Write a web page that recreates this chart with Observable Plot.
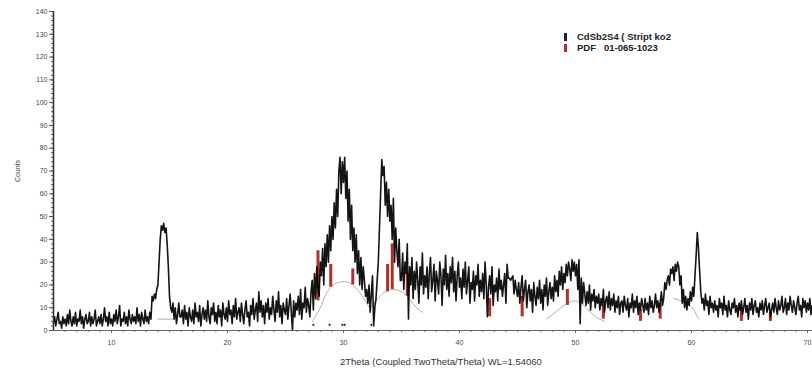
<!DOCTYPE html>
<html><head><meta charset="utf-8">
<script src="https://cdn.jsdelivr.net/npm/d3@7"></script>
<script src="https://cdn.jsdelivr.net/npm/@observablehq/plot@0.6"></script>
<style>
body{margin:0;background:#fff;font-family:"Liberation Sans",Arial,sans-serif;}
#wrap{position:relative;width:812px;height:374px;overflow:hidden;}
.leg{position:absolute;left:564px;font-size:9.5px;font-weight:bold;color:#222;white-space:pre;line-height:10px;}
.leg i{display:inline-block;width:3px;height:8px;margin-right:10px;vertical-align:-1px;}
#xt{position:absolute;left:340px;top:356px;font-size:9.5px;color:#333;white-space:pre;}
</style></head><body><div id="wrap"></div>
<script>
// 2Theta grid: start and step of the scan
const thetaStart = 5.0;
const thetaStep = 0.1;
// Counts, one row per degree (10 points)
const counts = [
/*5*/ 3,6,2,5,8,3,4,1,6,3,
/*6*/ 5,2,7,3,9,4,2,6,3,8,
/*7*/ 2,5,4,9,3,6,1,5,7,3,
/*8*/ 4,8,2,6,3,5,9,2,4,6,
/*9*/ 3,7,2,5,10,4,6,2,8,3,
/*10*/ 5,2,7,4,9,3,6,11,2,5,
/*11*/ 4,8,3,6,2,9,5,3,7,4,
/*12*/ 6,3,10,4,7,2,8,5,3,9,
/*13*/ 4,6,3,8,5,15,13,16,14,18,
/*14*/ 20,30,40,46,44,47,43,45,38,28,
/*15*/ 15,10,8,12,5,10,3,7,12,6,
/*16*/ 6,9,3,11,5,8,2,10,6,4,
/*17*/ 9,3,12,6,8,4,11,2,7,10,
/*18*/ 5,9,4,13,6,3,10,7,12,4,
/*19*/ 8,3,11,6,9,2,12,7,5,10,
/*20*/ 4,13,7,9,3,11,6,14,5,8,
/*21*/ 10,4,12,7,3,9,13,6,8,2,
/*22*/ 11,7,14,5,9,12,4,17,8,13,
/*23*/ 6,11,3,12,8,14,5,10,7,15,
/*24*/ 9,4,13,8,17,6,11,3,12,9,
/*25*/ 7,14,5,11,16,8,0,13,6,12,
/*26*/ 9,15,7,18,5,12,10,19,8,14,
/*27*/ 11,6,17,22,9,25,14,28,18,15,
/*28*/ 30,24,36,20,38,28,42,30,46,35,
/*29*/ 50,40,56,45,62,50,70,76,60,74,
/*30*/ 65,76,58,70,48,62,40,55,35,45,
/*31*/ 30,42,25,35,20,32,18,28,22,15,
/*32*/ 18,12,20,8,16,24,2,10,14,22,
/*33*/ 30,45,60,75,68,72,55,65,50,62,
/*34*/ 48,55,40,58,30,45,35,28,40,22,
/*35*/ 22,34,18,30,25,38,5,28,20,32,
/*36*/ 14,26,18,30,22,12,28,20,34,16,
/*37*/ 24,19,28,14,25,32,17,22,29,13,
/*38*/ 26,22,16,30,24,11,27,20,33,18,
/*39*/ 25,15,28,21,32,17,26,13,24,30,
/*40*/ 19,23,14,27,19,30,16,22,28,12,
/*41*/ 21,18,26,13,24,20,29,15,22,17,
/*42*/ 25,14,30,21,6,19,24,16,28,11,
/*43*/ 20,17,23,13,27,18,22,15,20,25,
/*44*/ 12,29,23,23,22,23,24,16,22,18,
/*45*/ 15,21,12,19,24,13,18,22,10,17,
/*46*/ 20,13,18,8,21,15,11,19,14,22,
/*47*/ 12,18,9,20,15,23,11,17,21,14,
/*48*/ 19,13,24,17,22,15,26,20,28,18,
/*49*/ 25,21,29,24,30,27,22,31,26,30,
/*50*/ 24,29,18,31,3,23,12,21,16,11,
/*51*/ 17,12,20,9,16,13,18,10,15,12,
/*52*/ 16,9,14,11,18,8,13,15,10,17,
/*53*/ 9,14,11,16,8,13,10,15,7,12,
/*54*/ 13,8,15,11,9,14,6,12,10,16,
/*55*/ 8,13,10,15,7,12,9,14,11,8,
/*56*/ 14,9,12,7,15,10,13,8,11,16,
/*57*/ 10,13,8,12,17,11,14,21,18,22,
/*58*/ 24,20,27,25,28,22,29,26,30,28,
/*59*/ 20,24,12,18,10,15,9,14,11,17,
/*60*/ 13,19,15,24,33,43,36,26,17,12,
/*61*/ 14,9,16,11,13,7,15,10,12,8,
/*62*/ 13,9,11,6,14,10,12,7,15,9,
/*63*/ 11,6,13,9,7,12,10,14,8,11,
/*64*/ 6,12,9,13,7,10,14,8,11,5,
/*65*/ 12,9,14,7,11,13,8,10,6,12,
/*66*/ 9,13,7,11,14,8,10,12,6,9,
/*67*/ 12,8,14,10,7,13,9,11,15,8,
/*68*/ 10,14,7,12,9,15,11,8,13,10,
/*69*/ 7,12,15,9,11,6,14,10,13,8,
/*70*/ 12,9,14,7,11
];
// Fitted background (amorphous humps)
const bgSeg   = [1,1, 2,2,2,2,2,2,2,2,2,2,2,2,2,2,2,2,2,2,2,2, 3,3,3,3,3,3,3, 4,4,4,4];
const bgTheta = [14.0,15.4, 27.3,28.0,28.5,29.0,29.5,30.0,30.5,31.0,31.5,32.0,32.3,32.8,33.3,33.8,34.3,34.8,35.3,35.8,36.3,36.8, 47.5,48.5,49.3,50.0,50.7,51.5,52.5, 58.5,59.5,60.2,60.6];
const bgCount = [5,5, 4,10,16,19.5,21,21.5,21,19,16,12,10,13,16,17.5,18,17.5,16,13,10,8, 5,9,12,13,11,7,4, 14,12,9,5];
// PDF 01-065-1023 reference sticks
const pdfTheta = [27.8,28.9,30.8,33.8,34.2,35.5,42.6,45.4,49.3,52.4,55.6,57.3,64.3,66.8];
const pdfTop   = [35,29,27,29,38,25,14,15,18,11,9,12,10,8];
const pdfBase  = [13,19,20,17,18,15,6,6,11,5,4,5,4,4];
// small markers under the pattern
const markTheta = [27.4,28.8,29.9,30.1,32.4];

const data = counts.map((c,i)=>({t: +(thetaStart + i*thetaStep).toFixed(2), c}));
const bg = bgTheta.map((t,i)=>({t, c: bgCount[i], s: bgSeg[i]}));
const pdf = pdfTheta.map((t,i)=>({t, y1: pdfBase[i], y2: pdfTop[i]}));
const marks = markTheta.map(t=>({t, c: 2.5}));

const chart = Plot.plot({
  width: 812, height: 374,
  marginLeft: 53, marginRight: 0, marginTop: 11, marginBottom: 44,
  style: {fontFamily: "Liberation Sans, Arial, sans-serif", background: "#fff"},
  x: {domain: [5, 70.43]},
  y: {domain: [0, 140]},
  marks: [
    Plot.line(bg, {x: "t", y: "c", z: "s", stroke: "#9a9a9a", strokeWidth: 0.8, curve: "monotone-x"}),
    Plot.ruleX(pdf, {x: "t", y1: "y1", y2: "y2", stroke: "#b0302a", strokeWidth: 3}),
    Plot.line(data, {x: "t", y: "c", stroke: "#000", strokeWidth: 1.6, strokeOpacity: 0.92}),
    Plot.dot(marks, {x: "t", y: "c", r: 1.1, fill: "#222", stroke: null}),
    Plot.ruleY([0], {stroke: "#666", strokeWidth: 1}),
    Plot.ruleX([5], {stroke: "#333", strokeWidth: 1.6}),
    Plot.axisY({ticks: d3.range(0, 141, 2), tickSize: 2, tickFormat: () => "", label: null, stroke: "#555"}),
    Plot.axisY({ticks: d3.range(0, 141, 10), tickSize: 4, tickPadding: 2, fontSize: 7, fill: "#444", stroke: "#555",
      label: "Counts", labelAnchor: "center", labelArrow: "none", labelOffset: 38}),
    Plot.axisX({ticks: d3.range(6, 71, 1), tickSize: 2, tickFormat: () => "", label: null, stroke: "#666"}),
    Plot.axisX({ticks: d3.range(10, 71, 10), tickSize: 3, tickPadding: 7, fontSize: 7, fill: "#444", stroke: "#666", label: null})
  ]
});
const wrap = document.getElementById("wrap");
wrap.appendChild(chart);
const legNames = ["CdSb2S4 ( Stript ko2", "PDF   01-065-1023"];
const legColors = ["#222", "#b0302a"];
legNames.forEach((n,i)=>{
  const d = document.createElement("div");
  d.className = "leg";
  d.style.top = (32 + i*11) + "px";
  d.innerHTML = `<i style="background:${legColors[i]}"></i>`;
  d.appendChild(document.createTextNode(n));
  wrap.appendChild(d);
});
const xt = document.createElement("div");
xt.id = "xt";
xt.textContent = "2Theta (Coupled TwoTheta/Theta) WL=1.54060";
wrap.appendChild(xt);
</script></body></html>
